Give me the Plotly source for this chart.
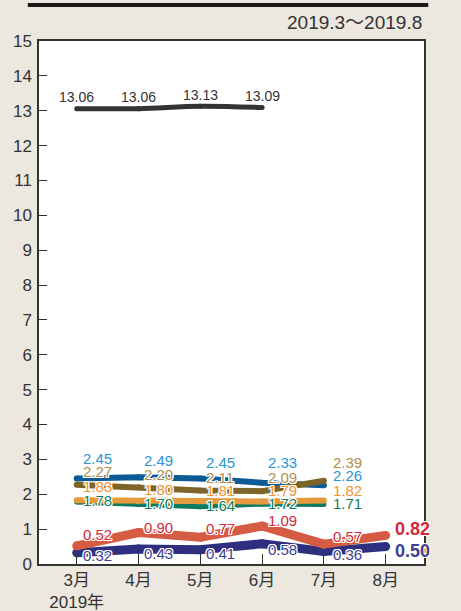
import plotly.graph_objects as go

# ---------------- data ----------------
months = ["3月", "4月", "5月", "6月", "7月", "8月"]
year_label = "2019年"
period_label = "2019.3～2019.8"
y_ticks = list(range(0, 16))

s_black = [13.06, 13.06, 13.13, 13.09, None, None]
s_blue = [2.45, 2.49, 2.45, 2.33, 2.26, None]
s_tan = [2.27, 2.20, 2.11, 2.09, 2.39, None]
s_orange = [1.83, 1.80, 1.81, 1.79, 1.82, None]
s_green = [1.78, 1.70, 1.64, 1.72, 1.71, None]
s_red = [0.52, 0.90, 0.77, 1.09, 0.57, 0.82]
s_navy = [0.32, 0.43, 0.41, 0.58, 0.36, 0.50]

# ---------------- styles ----------------
BG = "#ece7df"
FONT = "Liberation Sans, Arial, Noto Sans CJK JP, sans-serif"
SHADOW = ("1px 1px 0 #fff, -1px -1px 0 #fff, 1px -1px 0 #fff, -1px 1px 0 #fff, "
          "0 1px 0 #fff, 0 -1px 0 #fff, 1px 0 0 #fff, -1px 0 0 #fff")

series = [
    dict(y=s_green, line="#0b7a60", width=5, label="#127a5d", ys=[1, 1, 1, 1, 1, None], shape="linear"),
    dict(y=s_orange, line="#e59a3e", width=6, label="#ef9335", ys=[14, 12, 10, 11, 10, None], shape="linear"),
    dict(y=s_blue, line="#0c5a96", width=6, label="#2b95d6", ys=[20, 17, 16, 20, 10, None], shape="linear"),
    dict(y=s_tan, line="#7e6527", width=6, label="#b08f4e", ys=[13, 13, 13, 14, 18, None], shape="linear"),
    dict(y=s_navy, line="#2f2f7f", width=9, label="#3f4091", ys=[-3, -4, -4, -6, -3, -4], shape="linear"),
    dict(y=s_red, line="#d65b43", width=9, label="#d3283a", ys=[11, 5, 9, 6, 8, 6], shape="linear"),
    dict(y=s_black, line="#333333", width=5, label="#333333", ys=[12, 12, 11, 12, None, None], shape="spline"),
]

x_idx = list(range(len(months)))

fig = go.Figure()
annotations = []
for s in series:
    fig.add_trace(go.Scatter(
        x=x_idx, y=s["y"], mode="lines+markers",
        line=dict(color=s["line"], width=s["width"], shape=s["shape"], smoothing=1.0),
        marker=dict(color=s["line"], size=s["width"], line=dict(width=0)),
        hoverinfo="skip", showlegend=False, cliponaxis=True,
    ))
    is_black = s["y"] is s_black
    for i, v in enumerate(s["y"]):
        if v is None:
            continue
        last = i == 5
        annotations.append(dict(
            x=i, y=v, xref="x", yref="y", text=f"{v:.2f}", showarrow=False,
            xanchor="center" if is_black else "left",
            xshift=0 if is_black else (7 if i >= 4 else 4),
            yshift=s["ys"][i],
            font=dict(family=FONT, size=18 if last else (14 if is_black else 15),
                      color=s["label"], weight="bold" if last else "normal",
                      shadow="none" if is_black else SHADOW),
        ))

annotations.append(dict(
    x=1.0, y=1.036, xref="paper", yref="paper", text=period_label, showarrow=False,
    xanchor="right", yanchor="middle", font=dict(family=FONT, size=19, color="#333333"),
))

ticktext = [m if i else f"{m}<br>{year_label}" for i, m in enumerate(months)]

fig.update_layout(
    width=461, height=611,
    margin=dict(l=39, r=37, t=41, b=47, autoexpand=False),
    paper_bgcolor=BG, plot_bgcolor="#ffffff",
    annotations=annotations,
    shapes=[dict(type="line", xref="paper", yref="paper",
                 x0=-0.029, x1=1.011, y0=1.069, y1=1.069,
                 line=dict(color="#1a1a1a", width=4))],
    xaxis=dict(
        range=[-0.61, 5.62], tickvals=x_idx, ticktext=ticktext,
        showgrid=False, zeroline=False, automargin=False,
        showline=True, linecolor="#333333", linewidth=1.5, mirror=True,
        ticks="inside", ticklen=10, tickcolor="#333333", tickwidth=1.2,
        tickfont=dict(family=FONT, size=17, color="#333333"),
    ),
    yaxis=dict(
        range=[0, 15], tickvals=y_ticks, ticktext=[str(t) for t in y_ticks],
        showgrid=False, zeroline=False, automargin=False,
        showline=True, linecolor="#333333", linewidth=1.5, mirror=True,
        ticks="inside", ticklen=8, tickcolor="#333333", tickwidth=1.2,
        tickfont=dict(family=FONT, size=17, color="#333333"),
        ticklabelstandoff=2,
    ),
)

fig.write_html("out.html", config={"displayModeBar": False},
               post_script="document.body.style.margin='0';document.body.style.overflow='hidden';")
